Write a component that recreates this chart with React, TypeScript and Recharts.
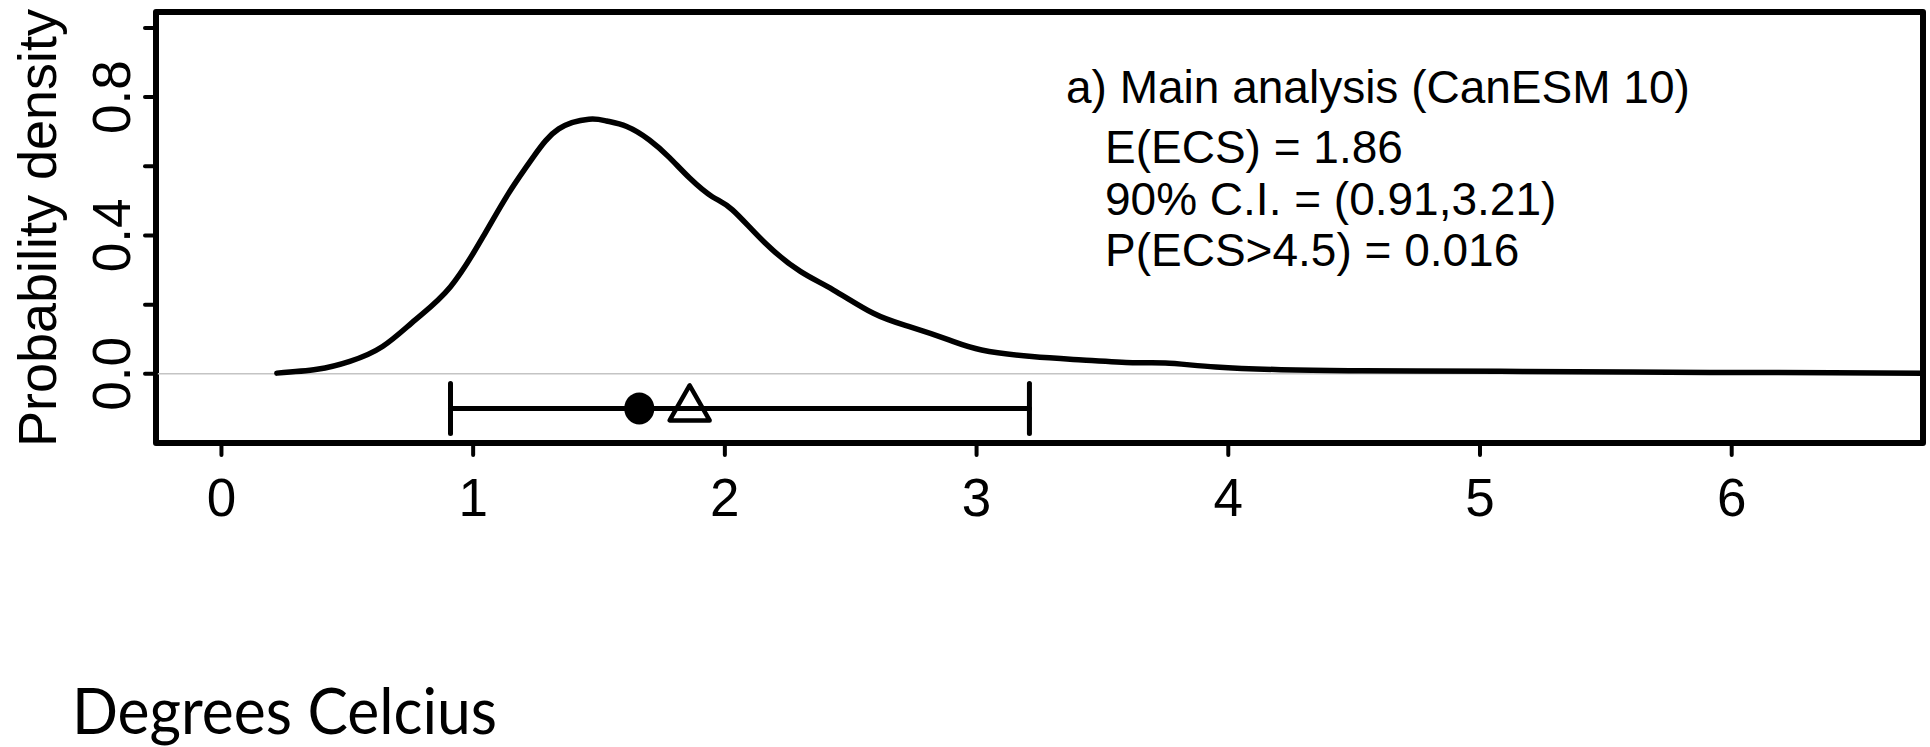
import React from "react";
import {
  ComposedChart,
  Line,
  XAxis,
  YAxis,
  ReferenceLine,
  ReferenceArea,
  Scatter,
  ErrorBar,
} from "recharts";

// ECS values (degrees C) and the estimated probability density
const ecsGrid = [
  0.22, 0.38, 0.51, 0.64, 0.77, 0.91, 1.04, 1.14, 1.24, 1.34, 1.46, 1.53, 1.61, 1.7,
  1.78, 1.86, 1.95, 2.03, 2.16, 2.3, 2.43, 2.59, 2.73, 2.89, 3.02, 3.22, 3.42, 3.62, 3.75, 3.95,
  4.21, 4.48, 4.75, 5.17, 5.59, 6.0, 6.4, 6.76,
];
const density = [
  0.002, 0.013, 0.036, 0.079, 0.156, 0.252, 0.397, 0.521, 0.628, 0.708, 0.736,
  0.731, 0.715, 0.676, 0.625, 0.566, 0.512, 0.474, 0.378, 0.296, 0.243, 0.175, 0.137, 0.098,
  0.069, 0.05, 0.04, 0.032, 0.031, 0.02, 0.012, 0.009, 0.008, 0.007, 0.005, 0.004, 0.003, 0.002,
];

const xTicks = [0, 1, 2, 3, 4, 5, 6];
const yTicks = [0, 0.2, 0.4, 0.6, 0.8, 1.0];
const yLabelled = [0, 0.4, 0.8];

const ciLow = 0.91;
const ciHigh = 3.21;
const medianEcs = 1.66;
const meanEcs = 1.86;
const pAbove45 = 0.016;
const markerRow = -0.1;

const title = "a) Main analysis (CanESM 10)";
const statLines = [
  `E(ECS) = ${meanEcs.toFixed(2)}`,
  `90% C.I. = (${ciLow.toFixed(2)},${ciHigh.toFixed(2)})`,
  `P(ECS>4.5) = ${pAbove45.toFixed(3)}`,
];

const X_DOMAIN: [number, number] = [-0.26, 6.76];
const Y_DOMAIN: [number, number] = [-0.2, 1.046];
const FONT = "'Liberation Sans', Arial, Helvetica, sans-serif";

const curve = ecsGrid.map((x, i) => ({ x, y: density[i] }));
const medianPoint = [{ x: medianEcs, y: markerRow, err: [medianEcs - ciLow, ciHigh - medianEcs] }];
const meanPoint = [{ x: meanEcs, y: markerRow }];

function YTick({ x, y, payload }: any) {
  if (!yLabelled.some((v) => Math.abs(v - payload.value) < 1e-9)) return <g />;
  return (
    <text
      x={x}
      y={y}
      transform={`rotate(-90 ${x} ${y})`}
      textAnchor="middle"
      fontSize={53}
      fontFamily={FONT}
      fill="#000"
    >
      {Number(payload.value).toFixed(1)}
    </text>
  );
}

function MedianDot({ cx, cy }: any) {
  return <ellipse cx={cx} cy={cy} rx={15} ry={16} fill="#000" />;
}

function MeanTriangle({ cx, cy }: any) {
  const pts = `${cx},${cy - 23} ${cx - 20},${cy + 12} ${cx + 20},${cy + 12}`;
  return <polygon points={pts} fill="none" stroke="#000" strokeWidth={4.5} strokeLinejoin="round" />;
}

export default function App() {
  return (
    <div style={{ width: 1930, height: 747, background: "#fff" }}>
      <style>{"body{margin:0;background:#fff}"}</style>
      <ComposedChart
        width={1930}
        height={747}
        margin={{ top: 12, right: 7, bottom: 224, left: 56 }}
      >
        <XAxis
          type="number"
          dataKey="x"
          domain={X_DOMAIN}
          allowDataOverflow
          ticks={xTicks}
          interval={0}
          axisLine={false}
          tickLine={{ stroke: "#000", strokeWidth: 4, strokeLinecap: "round" }}
          tickSize={12}
          tickMargin={23}
          height={80}
          tick={{ fontSize: 53, fill: "#000", fontFamily: FONT }}
        />
        <YAxis
          type="number"
          dataKey="y"
          domain={Y_DOMAIN}
          allowDataOverflow
          ticks={yTicks}
          interval={0}
          axisLine={false}
          tickLine={{ stroke: "#000", strokeWidth: 4, strokeLinecap: "round" }}
          tickSize={11}
          tickMargin={15}
          width={100}
          tick={<YTick />}
        />
        <ReferenceLine y={0} stroke="#c4c4c4" strokeWidth={1.5} ifOverflow="visible" />
        <Line
          data={curve}
          dataKey="y"
          type="natural"
          stroke="#000"
          strokeWidth={5.5}
          strokeLinecap="round"
          dot={false}
          activeDot={false}
          isAnimationActive={false}
        />
        <Scatter data={medianPoint} dataKey="y" shape={<MedianDot />} isAnimationActive={false}>
          <ErrorBar
            dataKey="err"
            direction="x"
            width={25}
            stroke="#000"
            strokeWidth={5}
            strokeLinecap="round"
            isAnimationActive={false}
          />
        </Scatter>
        <Scatter data={meanPoint} dataKey="y" shape={<MeanTriangle />} isAnimationActive={false} />
        <ReferenceArea
          x1={X_DOMAIN[0]}
          x2={X_DOMAIN[1]}
          y1={Y_DOMAIN[0]}
          y2={Y_DOMAIN[1]}
          fill="none"
          fillOpacity={0}
          stroke="#000"
          strokeWidth={6}
          strokeLinejoin="round"
          ifOverflow="visible"
        />
        <text
          x={56}
          y={228}
          transform="rotate(-90 56 228)"
          textAnchor="middle"
          fontSize={54}
          fontFamily={FONT}
          fill="#000"
        >
          Probability density
        </text>
        <text x={1066} y={103} fontSize={46} fontFamily={FONT} fill="#000">
          {title}
        </text>
        {statLines.map((s, i) => (
          <text key={s} x={1105} y={163 + i * 51.5} fontSize={46} fontFamily={FONT} fill="#000">
            {s}
          </text>
        ))}
        <text
          x={72}
          y={734}
          fontSize={64}
          fontFamily="Lato, 'DejaVu Sans', sans-serif"
          fontWeight={400}
          textLength={425}
          lengthAdjust="spacingAndGlyphs"
          fill="#000"
        >
          Degrees Celcius
        </text>
      </ComposedChart>
    </div>
  );
}
